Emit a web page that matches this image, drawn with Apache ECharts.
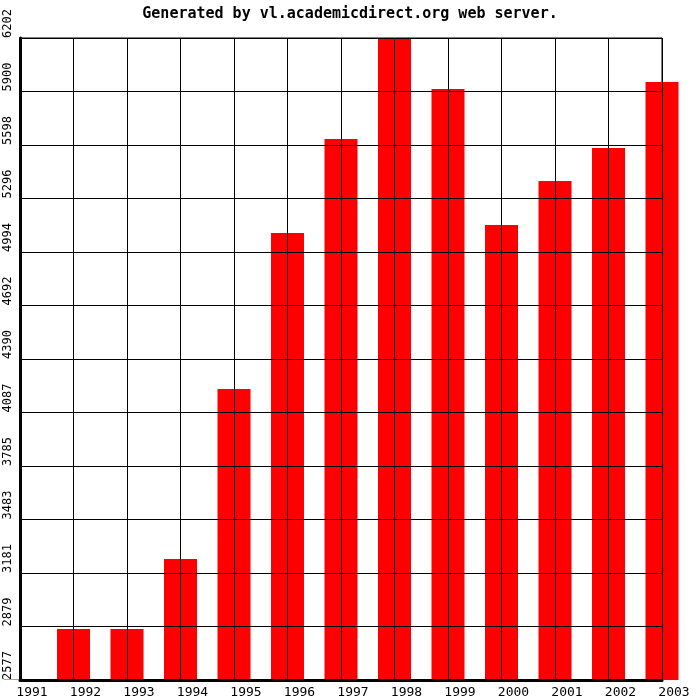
<!DOCTYPE html>
<html>
<head>
<meta charset="utf-8">
<script src="https://cdn.jsdelivr.net/npm/echarts@6/dist/echarts.min.js"></script>
<style>html,body{margin:0;padding:0;background:#fff}#c{width:700px;height:700px}</style>
</head>
<body>
<div id="c"></div>
<script>
const titleText = "Generated by vl.academicdirect.org web server.";
const years = [1991,1992,1993,1994,1995,1996,1997,1998,1999,2000,2001,2002,2003];
const values = [2580,2865,2865,3260,4220,5101,5632,6202,5914,5146,5395,5581,5954];
const yTickLabels = ["2577","2879","3181","3483","3785","4087","4390","4692","4994","5296","5598","5900","6202"];
const yMin = 2577, yMax = 6202;

const steps = yTickLabels.length - 1;
const span = yMax - yMin;
// scale so that one tick step is an integer (span) in axis units
const toAxis = v => (v - yMin) * steps;

const chart = echarts.init(document.getElementById('c'), null, {renderer:'canvas'});
const mono = "'DejaVu Sans Mono', monospace";
chart.setOption({
  animation: false,
  backgroundColor: '#fff',
  title: {
    text: titleText, left: 'center', top: 2,
    textStyle: {fontFamily: mono, fontSize: 15, fontWeight: 'bold', color: '#000'}
  },
  grid: {left: 20, right: 38, top: 38, bottom: 20, show: true, borderColor: '#000', borderWidth: 1, backgroundColor: 'transparent'},
  xAxis: {
    type: 'value', min: years[0], max: years[years.length-1], interval: 1, z: 5,
    axisLine: {show: true, onZero: false, lineStyle: {color: '#000', width: 3}},
    axisTick: {show: false},
    splitLine: {show: true, lineStyle: {color: '#000', width: 1}},
    axisLabel: {
      color: '#000', fontFamily: mono, fontSize: 13, margin: 6,
      padding: [0,0,0,24], showMinLabel: true, showMaxLabel: true,
      formatter: v => String(years[Math.round(v - years[0])])
    }
  },
  yAxis: {
    type: 'value', min: 0, max: span * steps, interval: span, z: 5,
    axisLine: {show: true, onZero: false, lineStyle: {color: '#000', width: 3}},
    axisTick: {show: false},
    splitLine: {show: true, lineStyle: {color: '#000', width: 1}},
    axisLabel: {
      color: '#000', fontFamily: mono, fontSize: 12, margin: 12,
      rotate: 90, align: 'left', verticalAlign: 'middle',
      showMinLabel: true, showMaxLabel: true,
      formatter: v => yTickLabels[Math.round(v / span)]
    }
  },
  series: [{
    type: 'bar', clip: false, barWidth: 33, z: 2,
    itemStyle: {color: '#ff0000'},
    data: years.map((y, i) => [y, toAxis(values[i])])
  }]
});
</script>
</body>
</html>
